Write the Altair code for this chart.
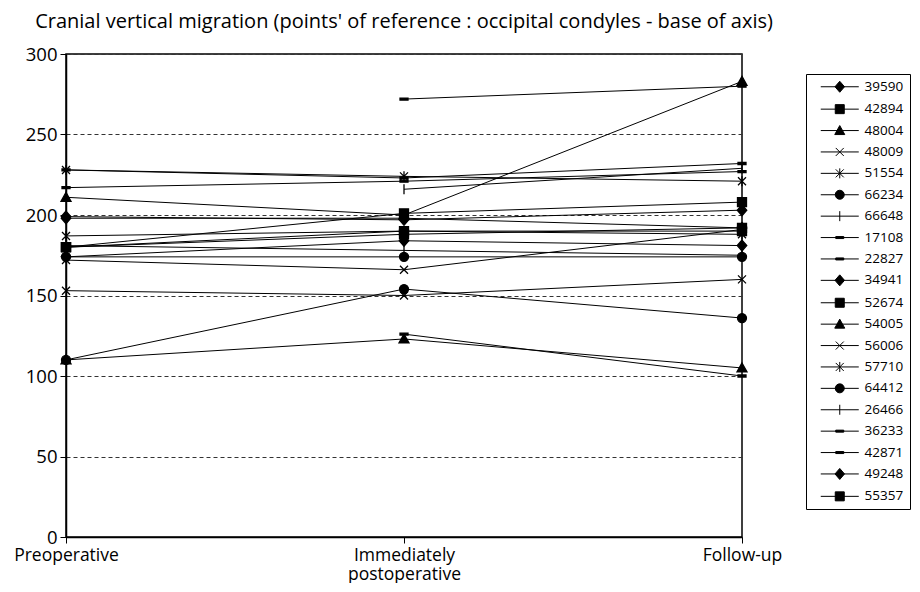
import altair as alt
import pandas as pd

steps = ["Preoperative", "Immediately postoperative", "Follow-up"]
series = ["39590", "42894", "48004", "48009", "51554", "66234", "66648", "17108", "22827", "34941",
          "52674", "54005", "56006", "57710", "64412", "26466", "36233", "42871", "49248", "55357"]
pre = [199, 180, 211, 153, 228, 174, 181, 217, None, 174, 180, 110, 172, 187, 110, None, None, 228, 198, 180]
post = [197, 201, 200, 150, 224, 174, 178, 221, 272, 184, 190, 123, 166, 190, 154, 216, 126, 223, 198, 188]
follow = [203, 208, 283, 160, 221, 174, 175, 227, 280, 181, 190, 105, 191, 188, 136, 229, 100, 232, 192, 192]

# marker shapes (unit square paths)
DIAMOND = "M0,-1.1L0.95,0L0,1.1L-0.95,0Z"
SQUARE = "M-0.9,-0.9H0.9V0.9H-0.9Z"
TRIANGLE = "M0,-1L1,0.8H-1Z"
XMARK = "M-0.8,-0.8L0.8,0.8M-0.8,0.8L0.8,-0.8"
STAR = "M-0.8,-0.8L0.8,0.8M-0.8,0.8L0.8,-0.8M0,-1V1"
CIRCLE = "M-0.9,0A0.9,0.9 0 1,0 0.9,0A0.9,0.9 0 1,0 -0.9,0Z"
PLUS = "M0,-1V1"
DASH = "M-0.8,-0.2H0.8V0.2H-0.8Z"
markers = [DIAMOND, SQUARE, TRIANGLE, XMARK, STAR, CIRCLE, PLUS, DASH, DASH,
           DIAMOND, SQUARE, TRIANGLE, XMARK, STAR, CIRCLE, PLUS, DASH, DASH,
           DIAMOND, SQUARE]
STUB = "M-3.8,0H3.8"
legend_paths = [STUB + m for m in markers]

rows = []
for i, s in enumerate(series):
    for j, v in enumerate([pre[i], post[i], follow[i]]):
        if v is not None:
            rows.append({"series": s, "step": steps[j], "idx": j, "value": v})
df = pd.DataFrame(rows)

FONT = "Open Sans"

x_enc = alt.X("step:O", sort=steps, scale=alt.Scale(type="point", padding=0),
              axis=alt.Axis(title=None, labelAngle=0, labelFont=FONT, labelFontSize=17.5,
                            labelColor="black", domainColor="black", domainWidth=1.5,
                            tickColor="black", tickSize=6, labelPadding=3,
                            labelLineHeight=19,
                            labelExpr="datum.label == 'Immediately postoperative' ? ['Immediately','postoperative'] : datum.label"))
y_enc = alt.Y("value:Q", scale=alt.Scale(domain=[0, 300], nice=False, zero=True),
              axis=alt.Axis(title=None, values=[0, 50, 100, 150, 200, 250, 300],
                            labelFont=FONT, labelFontSize=18.5, labelColor="black",
                            domainColor="black", domainWidth=1.5, tickColor="black",
                            tickSize=6, labelPadding=3, grid=True, gridDash=[4, 3],
                            gridColor="#333333", gridWidth=1))

legend_common = dict(title=None, orient="none", legendX=740, legendY=20,
                     padding=6, symbolOffset=21, labelOffset=18, symbolSize=100,
                     symbolStrokeWidth=1, symbolOpacity=1, labelFont=FONT,
                     labelFontSize=13.5, labelColor="black", rowPadding=6.4, symbolLimit=0)

base = alt.Chart(df)
lines = base.mark_line(color="black", strokeWidth=1).encode(
    x=x_enc, y=y_enc, detail="series:N", order=alt.Order("idx:Q"))
pts = base.mark_point(filled=True, color="black", stroke="black", strokeWidth=1.3,
                      size=100, opacity=1).encode(
    x=x_enc, y=y_enc,
    shape=alt.Shape("series:N", scale=alt.Scale(domain=series, range=markers), legend=None))
# legend A: strokes (line stub + open markers + outlines) and labels
leg_a = base.mark_point(filled=False, color="black", strokeWidth=1, opacity=0, size=100).encode(
    x=x_enc, y=y_enc,
    shape=alt.Shape("series:N", scale=alt.Scale(domain=series, range=legend_paths),
                    legend=alt.Legend(strokeColor="black", symbolStrokeColor="black",
                                      **legend_common)))
# legend B: filled marker bodies, drawn at the same place, no label text
leg_b = base.mark_point(filled=True, color="black", opacity=0, size=100).encode(
    x=x_enc, y=y_enc,
    shape=alt.Shape("series:N", scale=alt.Scale(domain=series, range=markers),
                    legend=alt.Legend(symbolFillColor="black", labelExpr="''",
                                      **legend_common)))

chart = alt.layer(lines, pts, leg_a, leg_b).resolve_scale(shape="independent").properties(
    width=676, height=483,
    title=alt.TitleParams("Cranial vertical migration (points' of reference : occipital condyles - base of axis)",
                          font=FONT, fontSize=20, fontWeight="normal", color="black",
                          anchor="middle", offset=13.5),
    padding={"left": 5, "right": 0, "top": 3, "bottom": 0},
).configure_view(stroke="black", strokeWidth=1.5)

chart.save("out.html", embed_options={"renderer": "svg", "actions": False})
